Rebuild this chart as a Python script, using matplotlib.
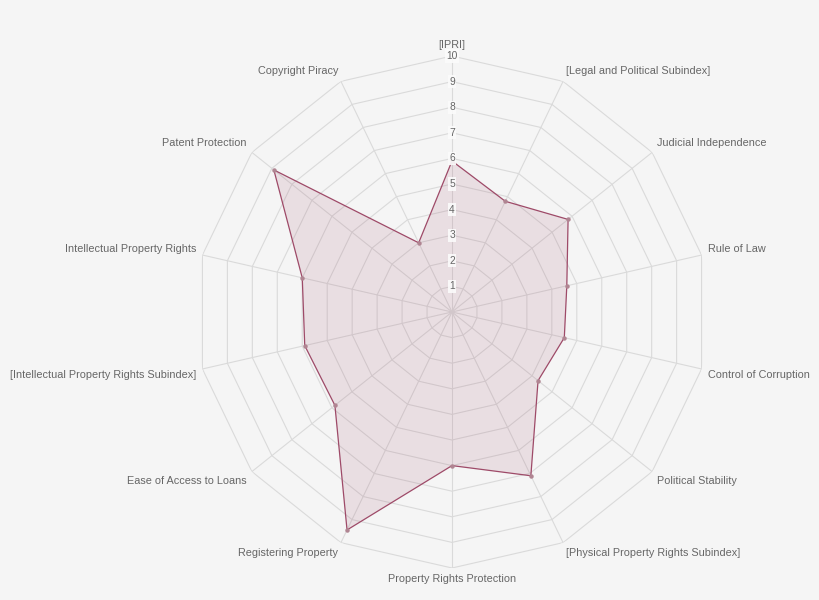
import numpy as np
import matplotlib
matplotlib.use('Agg')
import matplotlib.pyplot as plt

# axes, clockwise from the top
labels = ['[IPRI]', '[Legal and Political Subindex]', 'Judicial Independence',
          'Rule of Law', 'Control of Corruption', 'Political Stability',
          '[Physical Property Rights Subindex]', 'Property Rights Protection',
          'Registering Property', 'Ease of Access to Loans',
          '[Intellectual Property Rights Subindex]', 'Intellectual Property Rights',
          'Patent Protection', 'Copyright Piracy']
values = [5.9, 4.8, 5.8, 4.6, 4.5, 4.3, 7.1, 6.0, 9.45, 5.85, 5.9, 6.0, 8.9, 3.0]
ticks = [1, 2, 3, 4, 5, 6, 7, 8, 9, 10]

bg = '#f5f5f5'
line_col = '#9e4a68'
grid_col = '#dadada'
text_col = '#666666'

plt.rcParams['font.family'] = ['Liberation Sans', 'DejaVu Sans']

n = len(labels)
theta = np.arange(n) * 2 * np.pi / n
theta_c = np.append(theta, theta[0])

fig = plt.figure(figsize=(8.2, 6), dpi=100, facecolor=bg)
ax = fig.add_axes([196 / 820, 32 / 600, 512 / 820, 512 / 600], projection='polar')
ax.set_facecolor(bg)
ax.set_theta_zero_location('N')
ax.set_theta_direction(-1)
ax.set_ylim(0, 10)
ax.grid(False)
ax.spines['polar'].set_visible(False)
ax.set_xticks([])
ax.set_yticks([])

# polygon rings and spokes
for t in ticks:
    ax.plot(theta_c, [t] * (n + 1), color=grid_col, lw=0.8, zorder=1)
for th in theta:
    ax.plot([th, th], [0, 10], color=grid_col, lw=0.8, zorder=1)

# data
vals_c = values + values[:1]
ax.fill(theta_c, vals_c, color=line_col, alpha=0.13, zorder=2, lw=0)
ax.plot(theta_c, vals_c, color=line_col, lw=0.9, zorder=3)
ax.plot(theta, values, 'o', ms=2.2, color='#b08592', zorder=4)

# tick labels on the vertical spoke
for t in ticks:
    ax.text(0, t, str(t), ha='center', va='center', fontsize=7.4, color=text_col,
            zorder=5, bbox=dict(boxstyle='square,pad=0.15', fc='#fbfbfb', ec='none', alpha=0.9))

# point labels
for th, lab in zip(theta, labels):
    s, c = np.sin(th), np.cos(th)
    ha = 'center' if abs(s) < 1e-6 else ('left' if s > 0 else 'right')
    va = 'bottom' if c > 1e-6 else ('top' if c < -1e-6 else 'center')
    ax.text(th, 10.25, lab, ha=ha, va=va, fontsize=7.8, color=text_col, zorder=5)

fig.savefig('out.png', dpi=100, facecolor=bg)
